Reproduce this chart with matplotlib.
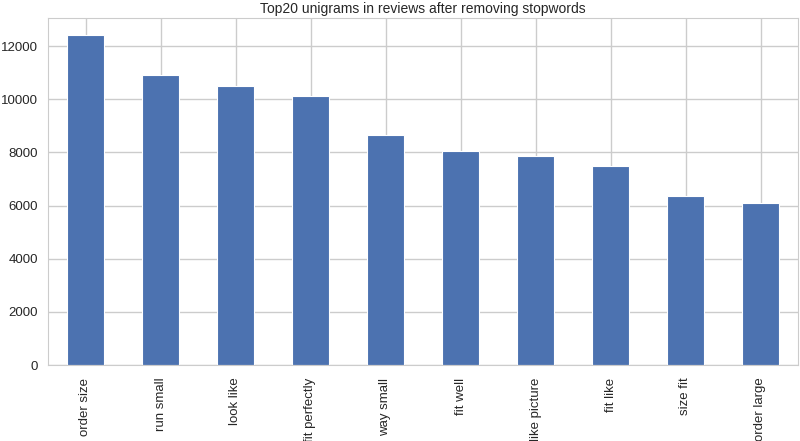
import matplotlib
matplotlib.use("Agg")
import matplotlib.pyplot as plt
import seaborn as sns

categories = ["order size", "run small", "look like", "fit perfectly", "way small",
              "fit well", "like picture", "fit like", "size fit", "order large"]
counts = [12434, 10900, 10510, 10135, 8660, 8070, 7857, 7490, 6360, 6106]

sns.set_style("whitegrid")
plt.rcParams['font.family'] = ['Liberation Sans', 'DejaVu Sans']

fig = plt.figure(figsize=(8, 4.41), dpi=100)
ax = fig.add_axes([0.06, 0.172, 0.9375, 0.787])
x = range(len(categories))
ax.bar(x, counts, width=0.5, color="#4c72b0", edgecolor="white", linewidth=0.8, zorder=2)
ax.set_xticks(list(x))
ax.set_xticklabels(categories, rotation=90, fontsize=9.5, color="#262626")
ax.set_xlim(-0.5, len(categories) - 0.5)
ax.set_ylim(0, max(counts) * 1.05)
ax.tick_params(axis='y', labelsize=9.5, colors="#262626", length=0, pad=7)
ax.tick_params(axis='x', length=0, pad=9)
ax.set_title("Top20 unigrams in reviews after removing stopwords", fontsize=10, color="#262626", pad=4)
for s in ax.spines.values():
    s.set_color("#cccccc")
ax.grid(True, color="#cccccc", linewidth=1)
ax.set_axisbelow(True)
fig.savefig("out.png", dpi=100)
